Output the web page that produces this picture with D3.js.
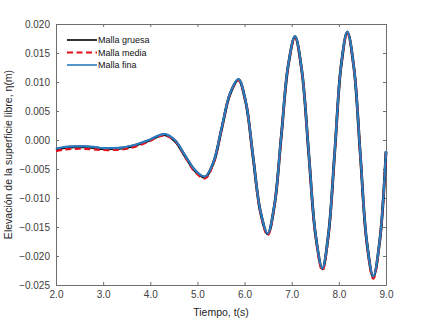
<!DOCTYPE html>
<html>
<head>
<meta charset="utf-8">
<script src="https://cdn.jsdelivr.net/npm/d3@7"></script>
<style>
    body { margin: 0; background: #fff; }
    .axis text { font-family: "Liberation Sans", Arial, sans-serif; font-size: 10px; fill: #404040; }
    .axis path, .axis line { stroke: #6e6e6e; }
    .label { font-family: "Liberation Sans", Arial, sans-serif; font-size: 10.5px; fill: #262626; }
    .legend text { font-family: "Liberation Sans", Arial, sans-serif; font-size: 9px; fill: #111; }
</style>
</head>
<body>
<div id="chart"></div>
<script>
// Time samples (s)
let tiempo = [2.0, 2.2, 2.4, 2.6, 2.8, 3.0, 3.2, 3.4, 3.6, 3.8, 4.0, 4.15, 4.32, 4.53, 4.74, 4.95,
    5.16, 5.34, 5.515, 5.69, 5.87, 6.025, 6.18, 6.335, 6.49, 6.635, 6.78, 6.925, 7.07, 7.215, 7.36,
    7.505, 7.65, 7.78, 7.915, 8.045, 8.18, 8.32, 8.455, 8.59, 8.73, 8.87, 9.0];

// Free surface elevation (m) for each mesh
let mallaGruesa = [-0.0016, -0.0013, -0.0012, -0.0012, -0.0013, -0.0015, -0.0015, -0.0014, -0.0011, -0.0006, 0.0000, 0.0006, 0.0009, -0.0002, -0.0028, -0.0053,
    -0.0064, -0.0039, 0.0020, 0.0079, 0.0104, 0.0065, -0.0029, -0.0123, -0.0162, -0.0112, 0.0008, 0.0128, 0.0178, 0.0119, -0.0022,
    -0.0163, -0.0222, -0.0162, -0.0018, 0.0126, 0.0186, 0.0124, -0.0025, -0.0174, -0.0236, -0.0172, -0.0020];

let mallaMedia = [-0.0019, -0.0016, -0.0015, -0.0015, -0.0016, -0.0017, -0.0017, -0.0016, -0.0013, -0.0008, -0.0001, 0.0005, 0.0008, -0.0002, -0.0029, -0.0055,
    -0.0066, -0.0040, 0.0020, 0.0079, 0.0103, 0.0065, -0.0029, -0.0124, -0.0164, -0.0112, 0.0008, 0.0128, 0.0177, 0.0119, -0.0022,
    -0.0164, -0.0225, -0.0163, -0.0018, 0.0126, 0.0185, 0.0124, -0.0025, -0.0175, -0.0239, -0.0173, -0.0020];

let mallaFina = [-0.0015, -0.0012, -0.0011, -0.0011, -0.0012, -0.0014, -0.0014, -0.0013, -0.0010, -0.0005, 0.0001, 0.0007, 0.0010, -0.0001, -0.0027, -0.0052,
    -0.0063, -0.0038, 0.0021, 0.0080, 0.0105, 0.0066, -0.0028, -0.0122, -0.0161, -0.0111, 0.0009, 0.0129, 0.0179, 0.0120, -0.0021,
    -0.0162, -0.0221, -0.0161, -0.0017, 0.0127, 0.0187, 0.0125, -0.0024, -0.0173, -0.0235, -0.0171, -0.0019];

let xTicks = [2, 3, 4, 5, 6, 7, 8, 9];
let yTicks = [-0.025, -0.020, -0.015, -0.010, -0.005, 0.000, 0.005, 0.010, 0.015, 0.020];

let series = [
    {name: "Malla gruesa", values: mallaGruesa, color: "#000000", width: 2.8, dash: null},
    {name: "Malla media", values: mallaMedia, color: "#e0101a", width: 2.4, dash: "6,3.5"},
    {name: "Malla fina", values: mallaFina, color: "#2a7cc0", width: 2.2, dash: null}
];

let margin = {top: 24, right: 42, bottom: 36, left: 56};
let width = 428 - margin.left - margin.right;
let height = 321 - margin.top - margin.bottom;

let svg = d3.select("#chart").append("svg")
    .attr("width", 428)
    .attr("height", 321)
    .append("g")
    .attr("transform", "translate(" + margin.left + "," + margin.top + ")");

let x = d3.scaleLinear().domain([2, 9]).range([0, width]);
let y = d3.scaleLinear().domain([-0.025, 0.020]).range([height, 0]);

// Axes (ticks inward, box on all sides)
svg.append("g")
    .attr("class", "axis")
    .attr("transform", "translate(0," + height + ")")
    .call(d3.axisBottom(x).tickValues(xTicks).tickFormat(d3.format(".1f")).tickSizeInner(-3).tickSizeOuter(0).tickPadding(6));

svg.append("g")
    .attr("class", "axis")
    .call(d3.axisLeft(y).tickValues(yTicks).tickFormat(d3.format(".3f")).tickSizeInner(-3).tickSizeOuter(0).tickPadding(6));

svg.append("g")
    .attr("class", "axis")
    .call(d3.axisTop(x).tickValues(xTicks).tickFormat("").tickSizeInner(-3).tickSizeOuter(0));

svg.append("g")
    .attr("class", "axis")
    .attr("transform", "translate(" + width + ",0)")
    .call(d3.axisRight(y).tickValues(yTicks).tickFormat("").tickSizeInner(-3).tickSizeOuter(0));

// Lines
let line = d3.line()
    .curve(d3.curveCatmullRom.alpha(0.5))
    .x((d, i) => x(tiempo[i]))
    .y(d => y(d));

let plot = svg.append("g");
series.forEach(s => {
    plot.append("path")
        .datum(s.values)
        .attr("fill", "none")
        .attr("stroke", s.color)
        .attr("stroke-width", s.width)
        .attr("stroke-dasharray", s.dash)
        .attr("d", line);
});

// Axis labels
svg.append("text")
    .attr("class", "label")
    .attr("x", width / 2)
    .attr("y", height + 31)
    .attr("text-anchor", "middle")
    .text("Tiempo, t(s)");

svg.append("text")
    .attr("class", "label")
    .attr("transform", "translate(" + (-44) + "," + (height / 2) + ") rotate(-90)")
    .attr("text-anchor", "middle")
    .text("Elevación de la superficie libre, η(m)");

// Legend
let legend = svg.append("g").attr("class", "legend");
series.forEach((s, i) => {
    let ly = 16 + i * 12.5;
    legend.append("line")
        .attr("x1", 11).attr("x2", 41)
        .attr("y1", ly).attr("y2", ly)
        .attr("stroke", s.color)
        .attr("stroke-width", i === 1 ? 2.2 : 1.6)
        .attr("stroke-dasharray", s.dash);
    legend.append("text")
        .attr("x", 42)
        .attr("y", ly)
        .attr("dy", "0.35em")
        .text(s.name);
});
</script>
</body>
</html>
